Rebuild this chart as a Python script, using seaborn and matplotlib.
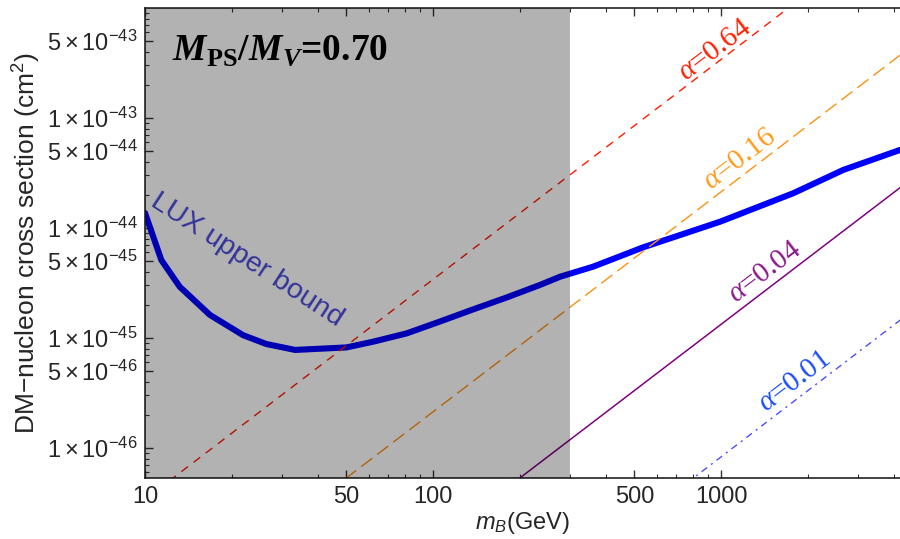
import numpy as np
import pandas as pd
import matplotlib
matplotlib.use("Agg")
import matplotlib.pyplot as plt
import seaborn as sns
from matplotlib.ticker import FixedLocator, NullFormatter

# ---------------- data ----------------
lux_mass = [10, 11.4, 13.2, 16.8, 21.9, 26.4, 33.2, 50.1, 62, 81, 105.7, 138, 180, 235,
            276, 360, 538, 993, 1783, 2658, 4183]
lux_sigma = [1.37e-44, 5.1e-45, 2.92e-45, 1.62e-45, 1.06e-45, 8.8e-46, 7.78e-46, 8.2e-46,
             9.25e-46, 1.1e-45, 1.41e-45, 1.82e-45, 2.33e-45, 3.03e-45,
             3.6e-45, 4.45e-45, 6.68e-45, 1.14e-44, 2.07e-44, 3.37e-44, 5.12e-44]

line_mass = [10, 4200]
sigma_a064 = [3.4e-47, 6.0e-42]
sigma_a016 = [2.13e-48, 3.75e-43]
sigma_a004 = [1.33e-49, 2.34e-44]
sigma_a001 = [8.3e-51, 1.46e-45]

alpha_labels = ["0.64", "0.16", "0.04", "0.01"]
label_mass = [953, 1164, 1422, 1807]
label_sigma = [4.15e-43, 4.24e-44, 3.98e-45, 3.98e-46]

excluded_mass = [10, 300]

x_major = [10, 50, 100, 500, 1000]
x_major_labels = ["10", "50", "100", "500", "1000"]
y_major = [5e-43, 1e-43, 5e-44, 1e-44, 5e-45, 1e-45, 5e-46, 1e-46]
y_major_labels = [r"$5\times10^{-43}$", r"$1\times10^{-43}$", r"$5\times10^{-44}$",
                  r"$1\times10^{-44}$", r"$5\times10^{-45}$", r"$1\times10^{-45}$",
                  r"$5\times10^{-46}$", r"$1\times10^{-46}$"]

# ---------------- style ----------------
sns.set_style("ticks")
plt.rcParams["font.family"] = ["Liberation Sans", "DejaVu Sans"]
plt.rcParams["mathtext.fontset"] = "custom"
plt.rcParams["mathtext.rm"] = "Liberation Sans"
plt.rcParams["mathtext.it"] = "Liberation Sans:italic"
plt.rcParams["mathtext.bf"] = "Liberation Serif:bold"
plt.rcParams["mathtext.bfit"] = "Liberation Serif:bold:italic"
plt.rcParams["mathtext.cal"] = "Liberation Serif:italic"
plt.rcParams["lines.scale_dashes"] = False

fig = plt.figure(figsize=(9, 5.39), dpi=100)
ax = fig.add_axes([0.1611, 0.1132, 0.8389, 0.8720])
ax.set_facecolor("white")

lux = pd.DataFrame({"m": lux_mass, "s": lux_sigma})
sns.lineplot(data=lux, x="m", y="s", ax=ax, color="#0000ff", lw=4.4, sort=False, zorder=2)

styles = [
    (sigma_a064, "#ff1a00", (6, 5), 1.0),
    (sigma_a016, "#ff9010", (10, 4.5), 1.0),
    (sigma_a004, "#800080", None, 1.1),
    (sigma_a001, "#4d4dff", (5, 3.5, 1.5, 3.5), 1.0),
]
for s, c, d, lw in styles:
    df = pd.DataFrame({"m": line_mass, "s": s})
    sns.lineplot(data=df, x="m", y="s", ax=ax, color=c, lw=lw, zorder=2)
    if d is not None:
        ax.lines[-1].set_dashes(d)

ax.axvspan(excluded_mass[0], excluded_mass[1], color="black", alpha=0.3, lw=0, zorder=3)

ax.set_xscale("log")
ax.set_yscale("log")
ax.set_xlim(10, 4183)
ax.set_ylim(5.33e-47, 1.0e-42)

# label rotation from the data slope
p0 = ax.transData.transform((line_mass[0], sigma_a016[0]))
p1 = ax.transData.transform((line_mass[1], sigma_a016[1]))
ang = np.degrees(np.arctan2(p1[1] - p0[1], p1[0] - p0[0]))
label_colors = ["#ff2000", "#ff9a1a", "#8b1a8b", "#1a4dff"]
for lab, mx, sy, c in zip(alpha_labels, label_mass, label_sigma, label_colors):
    ax.text(mx, sy, r"$\mathcal{\alpha}$=" + lab, color=c, fontsize=21,
            family="Liberation Serif", rotation=ang, rotation_mode="anchor",
            ha="center", va="center", zorder=4)

ax.text(22.6, 5.1e-45, "LUX upper bound", color="#33339a", fontsize=20.5,
        rotation=-33, rotation_mode="anchor", ha="center", va="center", zorder=4)

ax.text(0.036, 0.889, r"$\mathbfit{M}_{\mathbf{PS}}\mathbf{/}\mathbfit{M}_{\mathbfit{V}}$=0.70",
        transform=ax.transAxes, fontsize=27, color="black", family="Liberation Serif",
        weight="bold", ha="left", va="baseline", zorder=4)

# ticks
ax.xaxis.set_major_locator(FixedLocator(x_major))
ax.set_xticklabels(x_major_labels)
x_minor = [v * 10 ** e for e in range(1, 4) for v in range(1, 10)]
x_minor = [v for v in x_minor if v not in x_major and v <= 4183]
ax.xaxis.set_minor_locator(FixedLocator(x_minor))
ax.xaxis.set_minor_formatter(NullFormatter())

ax.yaxis.set_major_locator(FixedLocator(y_major))
ax.set_yticklabels(y_major_labels)
y_minor = [v * 10.0 ** e for e in range(-47, -42) for v in range(1, 10)]
y_minor = [v for v in y_minor if all(abs(v / t - 1) > 1e-6 for t in y_major)]
ax.yaxis.set_minor_locator(FixedLocator(y_minor))
ax.yaxis.set_minor_formatter(NullFormatter())

ax.tick_params(axis="both", which="major", direction="in", length=6, width=1,
               labelsize=17, top=True, right=False, color="#333333")
ax.tick_params(axis="both", which="minor", direction="in", length=3, width=0.8,
               top=True, right=False, color="#333333")
ax.tick_params(axis="x", pad=6)
ax.tick_params(axis="y", pad=5)

for sp in ["left", "bottom", "top"]:
    ax.spines[sp].set_visible(True)
    ax.spines[sp].set_linewidth(1.2)
    ax.spines[sp].set_color("#222222")
ax.spines["right"].set_visible(False)

ax.set_xlabel(r"$m_B$(GeV)", fontsize=17, labelpad=1)
ax.set_ylabel(r"DM$-$nucleon cross section (cm$^2$)", fontsize=19, labelpad=3)

fig.savefig("out.png", dpi=100)
